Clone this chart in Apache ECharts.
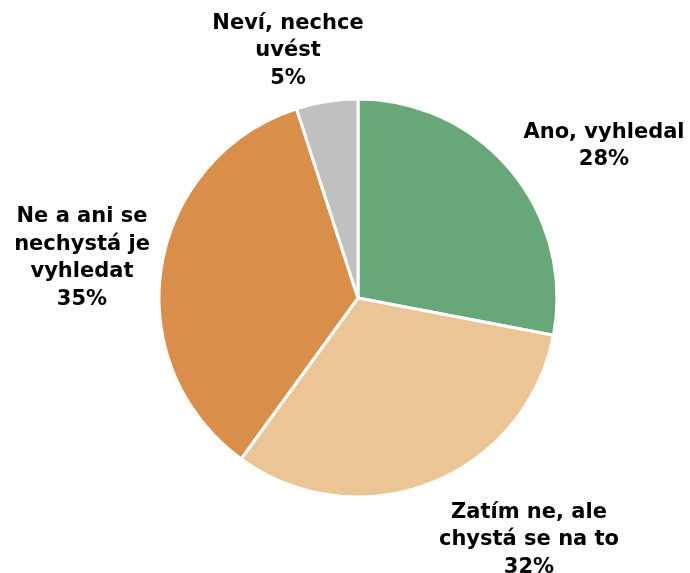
<!DOCTYPE html>
<html><head><meta charset="utf-8">
<script src="https://cdn.jsdelivr.net/npm/echarts@6/dist/echarts.min.js"></script>
<style>html,body{margin:0;padding:0;background:#fff}#c{width:690px;height:573px}</style>
</head><body><div id="c"></div>
<script>
const categories = ['Ano, vyhledal', 'Zatím ne, ale\nchystá se na to', 'Ne a ani se\nnechystá je\nvyhledat', 'Neví, nechce\nuvést'];
const values = [28, 32, 35, 5];
const colors = ['#68A878', '#EBC596', '#D98F4A', '#C0C0C0'];
const labelCenters = [[604, 146], [529, 540], [82, 258], [288, 51]];

const chart = echarts.init(document.getElementById('c'));
chart.setOption({
  animation: false,
  series: [{
    type: 'pie',
    center: [358, 298],
    radius: [0, 199],
    startAngle: 90,
    clockwise: true,
    itemStyle: { borderColor: '#fff', borderWidth: 3 },
    label: {
      show: true,
      position: 'outside',
      formatter: p => p.name + '\n' + p.value + '%',
      fontFamily: 'DejaVu Sans',
      fontWeight: 'bold',
      fontSize: 21,
      lineHeight: 27.5,
      color: '#000',
      overflow: 'none'
    },
    labelLine: { show: false },
    labelLayout: p => ({ x: labelCenters[p.dataIndex][0], y: labelCenters[p.dataIndex][1], align: 'center', verticalAlign: 'middle' }),
    data: categories.map((n, i) => ({ name: n, value: values[i], itemStyle: { color: colors[i] } }))
  }]
});
</script></body></html>
